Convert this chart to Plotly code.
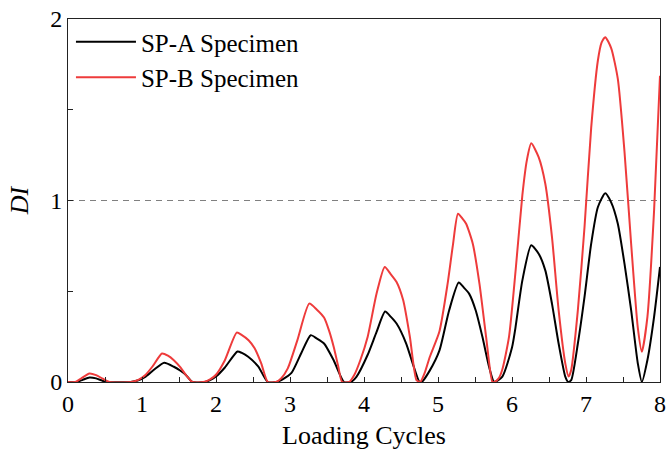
import plotly.graph_objects as go

# Damage index DI per loading cycle for the two specimens
sp_a_cycles = [0, 0.12, 0.2, 0.29, 0.38, 0.46, 0.53, 0.85,
               0.95, 1.05, 1.17, 1.30, 1.43, 1.52, 1.59, 1.68, 1.85,
               1.92, 2.0, 2.12, 2.29, 2.35, 2.435, 2.57, 2.70, 2.82,
               2.9, 3.02, 3.15, 3.28, 3.36, 3.46, 3.59, 3.73, 3.82,
               3.9, 4.05, 4.17, 4.285, 4.36, 4.44, 4.57, 4.66, 4.75, 4.78,
               4.89, 5.02, 5.15, 5.28, 5.35, 5.42, 5.51, 5.60, 5.69, 5.76,
               5.87, 6.00, 6.047, 6.14, 6.26, 6.36, 6.45, 6.54, 6.63, 6.72, 6.76,
               6.80, 6.89, 6.98, 7.07, 7.16, 7.26, 7.34, 7.43, 7.52, 7.61, 7.70, 7.755,
               7.83, 7.92, 8.0]
sp_a_di = [0, 0, 0.012, 0.025, 0.02, 0.008, 0, 0,
           0.01, 0.03, 0.07, 0.106, 0.084, 0.062, 0.04, 0, 0,
           0.01, 0.03, 0.08, 0.168, 0.16, 0.139, 0.086, 0, 0,
           0.015, 0.05, 0.157, 0.258, 0.24, 0.212, 0.12, 0, 0,
           0.03, 0.15, 0.276, 0.388, 0.36, 0.322, 0.212, 0.1, 0, 0,
           0.064, 0.174, 0.394, 0.548, 0.52, 0.487, 0.394, 0.249, 0.084, 0,
           0.03, 0.19, 0.3, 0.56, 0.753, 0.707, 0.615, 0.432, 0.212, 0.03, 0,
           0.01, 0.212, 0.469, 0.762, 0.963, 1.04, 0.99, 0.872, 0.652, 0.396, 0.103, 0,
           0.121, 0.359, 0.634]

sp_b_cycles = [0, 0.10, 0.18, 0.29, 0.38, 0.47, 0.56, 0.85,
               0.95, 1.05, 1.15, 1.27, 1.35, 1.43, 1.52, 1.60, 1.68, 1.83,
               1.92, 2.0, 2.12, 2.28, 2.35, 2.44, 2.52, 2.61, 2.70, 2.81,
               2.88, 2.97, 3.10, 3.26, 3.36, 3.46, 3.53, 3.59, 3.65, 3.705, 3.80,
               3.87, 3.95, 4.05, 4.17, 4.28, 4.36, 4.44, 4.53, 4.62, 4.71, 4.76,
               4.82, 4.89, 5.02, 5.13, 5.20, 5.27, 5.33, 5.38, 5.47, 5.56, 5.65, 5.735, 5.76,
               5.82, 5.87, 5.96, 6.05, 6.14, 6.20, 6.26, 6.36, 6.45, 6.54, 6.63, 6.72, 6.765,
               6.80, 6.89, 6.98, 7.07, 7.16, 7.21, 7.26, 7.34, 7.43, 7.52, 7.61, 7.70, 7.755,
               7.83, 7.92, 8.0]
sp_b_di = [0, 0, 0.02, 0.047, 0.038, 0.018, 0, 0,
           0.012, 0.04, 0.09, 0.157, 0.145, 0.12, 0.08, 0.035, 0, 0,
           0.015, 0.04, 0.12, 0.272, 0.258, 0.23, 0.187, 0.104, 0, 0,
           0.02, 0.075, 0.231, 0.432, 0.40, 0.355, 0.28, 0.194, 0.09, 0, 0,
           0.04, 0.12, 0.25, 0.487, 0.634, 0.595, 0.551, 0.45, 0.249, 0.01, 0,
           0.05, 0.139, 0.28, 0.542, 0.75, 0.927, 0.90, 0.872, 0.762, 0.542, 0.249, 0, 0,
           0.02, 0.07, 0.25, 0.62, 1.03, 1.22, 1.315, 1.239, 1.092, 0.8, 0.396, 0.103, 0.03,
           0.066, 0.396, 0.854, 1.40, 1.77, 1.87, 1.90, 1.84, 1.67, 1.27, 0.762, 0.30, 0.167,
           0.359, 0.945, 1.687]

di_limit = 1.0
x_ticks = [0, 1, 2, 3, 4, 5, 6, 7, 8]
y_ticks = [0, 1, 2]

serif = "'Liberation Serif', 'Times New Roman', 'DejaVu Serif', serif"

fig = go.Figure()
fig.add_trace(go.Scatter(x=sp_a_cycles, y=sp_a_di, mode="lines", name="SP-A Specimen",
                         line=dict(color="#000000", width=2, shape="spline", smoothing=0.6),
                         cliponaxis=False))
fig.add_trace(go.Scatter(x=sp_b_cycles, y=sp_b_di, mode="lines", name="SP-B Specimen",
                         line=dict(color="#ee3b3b", width=2, shape="spline", smoothing=0.6),
                         cliponaxis=False))

# Reference level DI = 1
fig.add_shape(type="line", xref="x", yref="y", x0=x_ticks[0], x1=x_ticks[-1],
              y0=di_limit, y1=di_limit, layer="below",
              line=dict(color="#808080", width=1.2, dash="6px,5px"))

axis_common = dict(showgrid=False, zeroline=False, showline=True, linecolor="#222",
                   linewidth=1, mirror=True, ticks="inside", ticklen=5, tickcolor="#222",
                   tickfont=dict(family=serif, size=24, color="#000"))

fig.update_xaxes(range=[0, 8], tickvals=x_ticks,
                 minor=dict(dtick=0.5, ticks="inside", ticklen=5, tickcolor="#222"),
                 title=dict(text="Loading Cycles", font=dict(family=serif, size=26, color="#000"),
                            standoff=10),
                 **axis_common)
fig.update_yaxes(range=[0, 2], tickvals=y_ticks,
                 minor=dict(dtick=0.5, ticks="inside", ticklen=5, tickcolor="#222"),
                 title=dict(text="<i>DI</i>", font=dict(family=serif, size=26, color="#000"),
                            standoff=14),
                 **axis_common)

fig.update_layout(
    width=672, height=458,
    margin=dict(l=68, r=6, t=18, b=76),
    plot_bgcolor="white", paper_bgcolor="white",
    font=dict(family=serif, color="#000"),
    legend=dict(x=0.005, y=1.0, xanchor="left", yanchor="top",
                bgcolor="rgba(0,0,0,0)", font=dict(family=serif, size=25, color="#000"),
                itemwidth=60, tracegroupgap=0),
    showlegend=True,
)

fig.write_html("out.html")
